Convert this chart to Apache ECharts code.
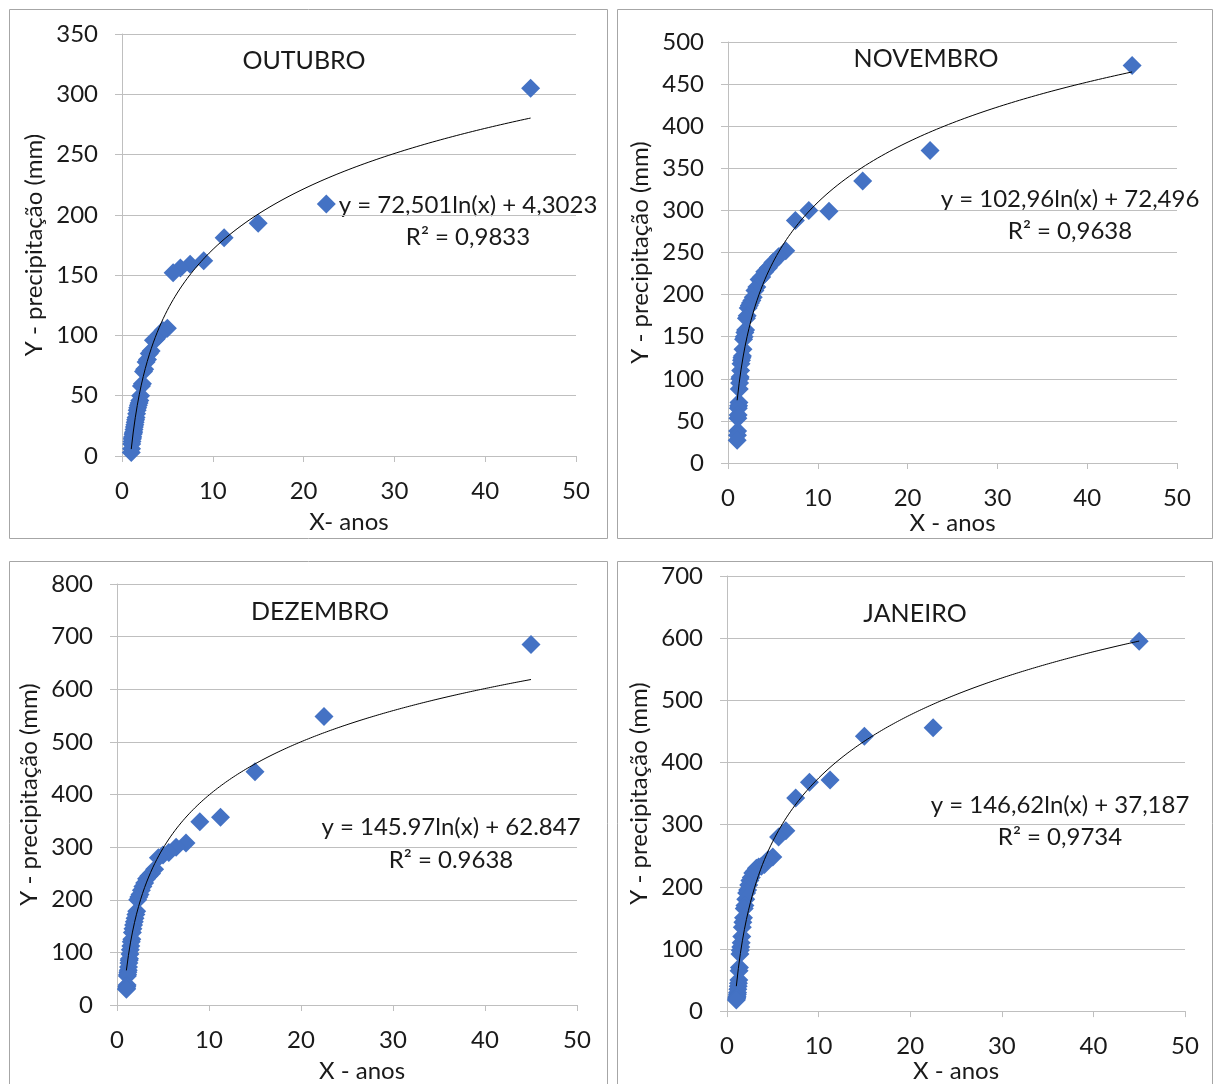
<!DOCTYPE html>
<html>
<head>
<meta charset="utf-8">
<script src="https://cdn.jsdelivr.net/npm/echarts@6/dist/echarts.min.js"></script>
<style>
  html, body { margin: 0; padding: 0; background: #fff; }
  #chart { width: 1214px; height: 1084px; }
</style>
</head>
<body>
<div id="chart"></div>
<script>
// tempo de retorno (anos), 44 anos de registro
const xAnos = [45, 22.5, 15, 11.25, 9, 7.5, 6.43, 5.63, 5, 4.5, 4.09, 3.75, 3.46, 3.21, 3, 2.81, 2.65, 2.5, 2.37, 2.25,
  2.14, 2.05, 1.96, 1.88, 1.8, 1.73, 1.67, 1.61, 1.55, 1.5, 1.45, 1.41, 1.36, 1.32, 1.29, 1.25, 1.22, 1.18, 1.15, 1.13,
  1.1, 1.07, 1.05, 1.02];

// precipitação (mm) por mês
const outubro = [305, 209, 193, 181, 162, 159, 156, 152, 106, 104, 100, 97, 96, 87, 85, 80, 78, 72, 70, 60,
  58, 50, 46, 44, 42, 40, 38, 35, 32, 30, 28, 26, 24, 22, 20, 19, 18, 16, 15, 14, 12, 10, 6, 3];
const novembro = [472, 371, 335, 299, 300, 288, 252, 245, 238, 232, 227, 221, 218, 209, 205, 197, 193, 190, 187, 184,
  175, 172, 158, 155, 150, 147, 135, 127, 125, 122, 118, 110, 102, 100, 95, 88, 72, 68, 65, 57, 53, 38, 33, 27];
const dezembro = [685, 548, 443, 357, 348, 308, 300, 290, 285, 280, 258, 250, 245, 240, 232, 225, 218, 210, 205, 200,
  178, 172, 165, 158, 152, 145, 138, 125, 120, 112, 105, 97, 88, 85, 80, 72, 66, 62, 58, 55, 38, 35, 32, 30];
const janeiro = [595, 456, 442, 372, 368, 343, 290, 280, 248, 244, 236, 233, 232, 230, 225, 222, 215, 210, 203, 195,
  190, 180, 170, 165, 150, 143, 135, 120, 110, 103, 98, 92, 70, 65, 50, 45, 40, 35, 30, 27, 24, 22, 20, 18];

const meses = ['OUTUBRO', 'NOVEMBRO', 'DEZEMBRO', 'JANEIRO'];
const seriesY = [outubro, novembro, dezembro, janeiro];
// linha de tendência logarítmica: y = a ln(x) + b
const trendA = [72.501, 102.96, 145.97, 146.62];
const trendB = [4.3023, 72.496, 62.847, 37.187];
const eqText = ['y = 72,501ln(x) + 4,3023', 'y = 102,96ln(x) + 72,496', 'y = 145.97ln(x) + 62.847', 'y = 146,62ln(x) + 37,187'];
const r2Text = ['R² = 0,9833', 'R² = 0,9638', 'R² = 0.9638', 'R² = 0,9734'];
const yMax = [350, 500, 800, 700];
const yStep = [50, 50, 100, 100];
const xNames = ['X- anos', 'X - anos', 'X - anos', 'X - anos'];

const FONT = 'Lato';
const TXT = '#1a1a1a';
const GRID_C = '#bfbfbf';

const grids = [
  { left: 122, top: 34, width: 454, height: 422 },
  { left: 728, top: 42, width: 449, height: 421 },
  { left: 117, top: 584, width: 460, height: 422 },
  { left: 727, top: 576, width: 458, height: 438 }
];
const titlePos = [[304, 61], [926, 59], [320, 612], [915, 614]];
const eqPos = [[468, 205, 237], [1070, 199, 231], [451, 827, 860], [1060, 805, 837]];
const boxes = [[9, 9, 598, 529], [617, 9, 595, 529], [9, 561, 598, 530], [617, 561, 595, 530]];
const xNamePad = [0, 0, 30, 0];
const xNameGap = [54, 47, 54, 47];

const chart = echarts.init(document.getElementById('chart'), null, { renderer: 'canvas' });

function trendLine(i) {
  const xmin = Math.min.apply(null, xAnos);
  const xmax = Math.max.apply(null, xAnos);
  const pts = [];
  const n = 200;
  for (let k = 0; k <= n; k++) {
    const x = xmin + (xmax - xmin) * k / n;
    pts.push([x, trendA[i] * Math.log(x) + trendB[i]]);
  }
  return pts;
}

const xAxis = [], yAxis = [], series = [], graphic = [];
meses.forEach((m, i) => {
  xAxis.push({
    gridIndex: i, type: 'value', min: 0, max: 50, interval: 10,
    name: xNames[i], nameLocation: 'middle', nameGap: xNameGap[i],
    nameTextStyle: { fontFamily: FONT, fontSize: 24, color: TXT, padding: [0, 0, 0, xNamePad[i]] },
    axisLine: { show: true, onZero: false, lineStyle: { color: GRID_C, width: 1 } },
    axisTick: { show: true, length: 6, lineStyle: { color: GRID_C } },
    axisLabel: { fontFamily: FONT, fontSize: 24, color: TXT, margin: 23 },
    splitLine: { show: false }
  });
  yAxis.push({
    gridIndex: i, type: 'value', min: 0, max: yMax[i], interval: yStep[i],
    name: 'Y - precipitação (mm)', nameLocation: 'middle', nameGap: 76, nameRotate: 90,
    nameTextStyle: { fontFamily: FONT, fontSize: 24, color: TXT },
    axisLine: { show: true, lineStyle: { color: GRID_C, width: 1 } },
    axisTick: { show: true, length: 7, lineStyle: { color: GRID_C } },
    axisLabel: { fontFamily: FONT, fontSize: 24, color: TXT, margin: 24 },
    splitLine: { show: true, lineStyle: { color: GRID_C, width: 1 } }
  });
  series.push({
    name: m, type: 'scatter', xAxisIndex: i, yAxisIndex: i,
    symbol: 'diamond', symbolSize: 19,
    itemStyle: { color: '#4472c4', opacity: 1 },
    data: xAnos.map((x, k) => [x, seriesY[i][k]]),
    z: 2
  });
  series.push({
    name: m + ' tendência', type: 'line', xAxisIndex: i, yAxisIndex: i,
    showSymbol: false, symbol: 'none', silent: true,
    lineStyle: { color: '#000', width: 1 },
    data: trendLine(i),
    z: 3
  });
  const b = boxes[i];
  graphic.push({
    type: 'rect', shape: { x: b[0] + 0.5, y: b[1] + 0.5, width: b[2], height: b[3] },
    style: { fill: null, stroke: '#a6a6a6', lineWidth: 1 }, silent: true, z: -1
  });
  graphic.push({
    type: 'text', x: titlePos[i][0], y: titlePos[i][1],
    style: { text: m, font: '25px ' + FONT, fill: TXT, textAlign: 'center', textVerticalAlign: 'middle' }
  });
  graphic.push({
    type: 'text', x: eqPos[i][0], y: eqPos[i][1],
    style: { text: eqText[i], font: '24px ' + FONT, fill: TXT, textAlign: 'center', textVerticalAlign: 'middle' }
  });
  graphic.push({
    type: 'text', x: eqPos[i][0], y: eqPos[i][2],
    style: { text: r2Text[i], font: '24px ' + FONT, fill: TXT, textAlign: 'center', textVerticalAlign: 'middle' }
  });
});

chart.setOption({
  animation: false,
  backgroundColor: '#fff',
  grid: grids.map(g => Object.assign({ containLabel: false }, g)),
  xAxis: xAxis,
  yAxis: yAxis,
  series: series,
  graphic: graphic
});
</script>
</body>
</html>
